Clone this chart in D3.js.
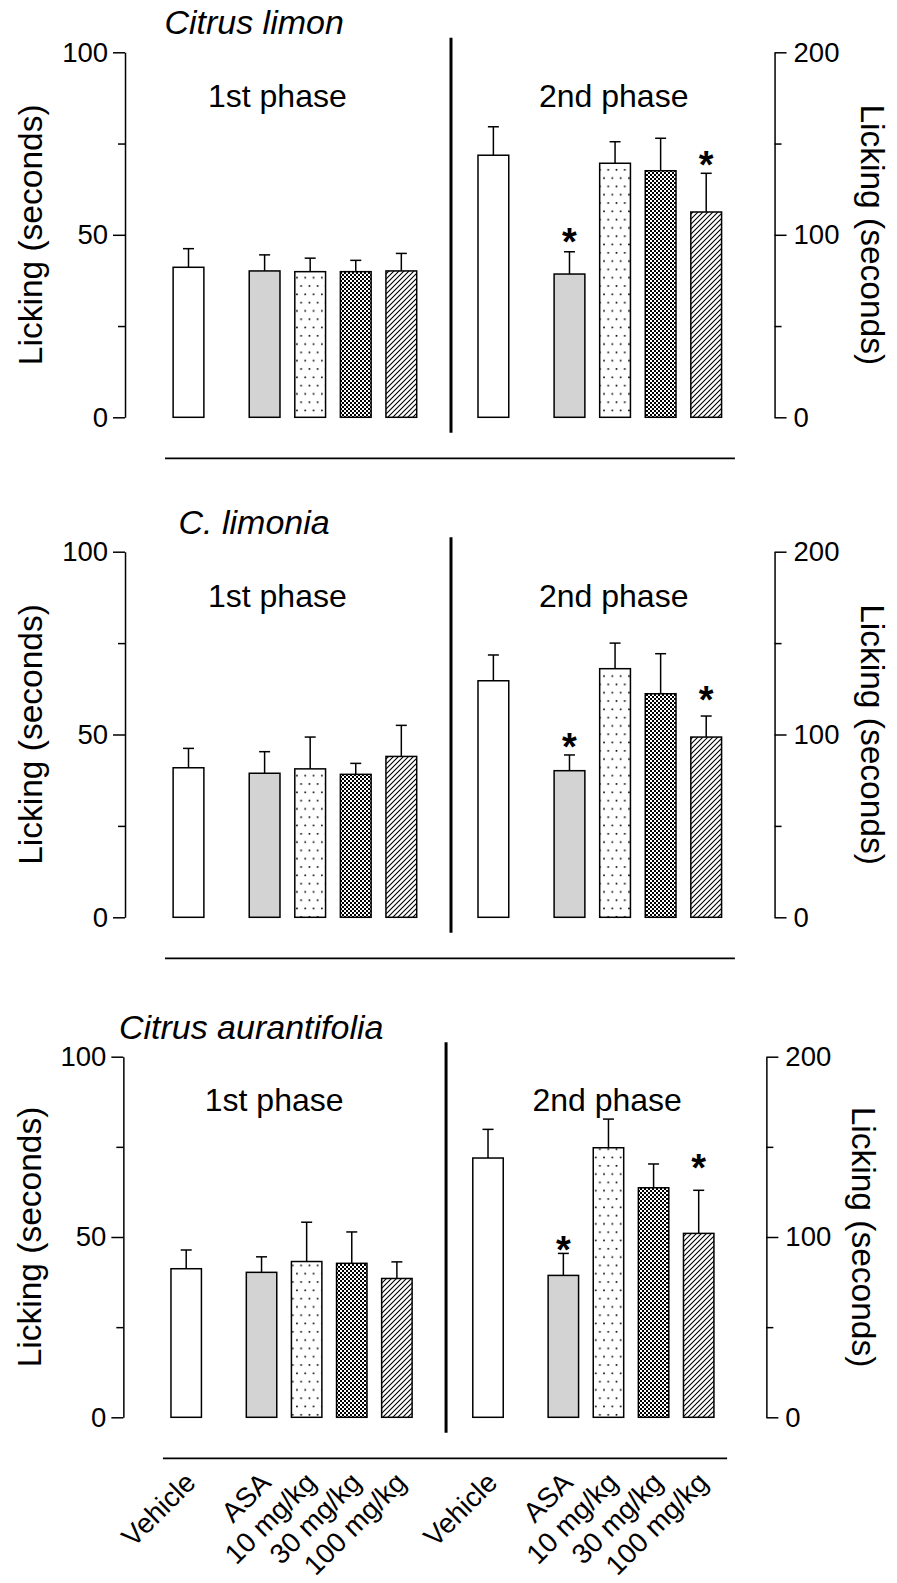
<!DOCTYPE html>
<html><head><meta charset="utf-8">
<script src="https://cdn.jsdelivr.net/npm/d3@7"></script>
<style>body{margin:0;background:#fff}</style>
</head><body>
<svg id="chart" width="897" height="1583"></svg>
<script>
// ---------- DATA ----------
const categories = ["Vehicle", "ASA", "10 mg/kg", "30 mg/kg", "100 mg/kg"];
const phaseLabels = ["1st phase", "2nd phase"];
const titles = ["Citrus limon", "C. limonia", "Citrus aurantifolia"];
const leftTicks = [0, 50, 100];
const leftMinorTicks = [25, 75];
const rightTicks = [0, 100, 200];
const rightMinorTicks = [50, 150];
const yLabel = "Licking (seconds)";

// Citrus limon
const limonPhase1Mean = [41.1, 40.1, 39.9, 39.9, 40.1];
const limonPhase1Sem  = [5.1, 4.4, 3.7, 3.1, 4.8];
const limonPhase2Mean = [143.6, 78.5, 139.2, 135.1, 112.5];
const limonPhase2Sem  = [15.6, 12.2, 11.8, 17.8, 21.2];
const limonPhase2Star = [null, 101, null, null, 143];

// C. limonia
const limoniaPhase1Mean = [40.9, 39.4, 40.6, 39.1, 44.0];
const limoniaPhase1Sem  = [5.3, 5.9, 8.7, 3.0, 8.5];
const limoniaPhase2Mean = [129.4, 80.2, 136.0, 122.3, 98.6];
const limoniaPhase2Sem  = [14.1, 8.6, 14.0, 21.9, 11.5];
const limoniaPhase2Star = [null, 98, null, null, 124];

// Citrus aurantifolia
const aurantPhase1Mean = [41.2, 40.2, 43.2, 42.7, 38.5];
const aurantPhase1Sem  = [5.2, 4.3, 10.9, 8.7, 4.6];
const aurantPhase2Mean = [143.8, 78.7, 149.5, 127.3, 102.0];
const aurantPhase2Sem  = [15.9, 12.2, 15.9, 13.2, 23.9];
const aurantPhase2Star = [null, 98, null, null, 143];

// ---------- LAYOUT ----------
const FONT = "'Liberation Sans', Arial, Helvetica, sans-serif";
const panels = [
  {title: titles[0], p1: [limonPhase1Mean, limonPhase1Sem], p2: [limonPhase2Mean, limonPhase2Sem], stars: limonPhase2Star,
   x0: 188.5, x1: 706.2, yTop: 52.3, yBot: 417.3, labels: false},
  {title: titles[1], p1: [limoniaPhase1Mean, limoniaPhase1Sem], p2: [limoniaPhase2Mean, limoniaPhase2Sem], stars: limoniaPhase2Star,
   x0: 188.5, x1: 706.2, yTop: 551.7, yBot: 917.3, labels: false},
  {title: titles[2], p1: [aurantPhase1Mean, aurantPhase1Sem], p2: [aurantPhase2Mean, aurantPhase2Sem], stars: aurantPhase2Star,
   x0: 186.2, x1: 698.7, yTop: 1056.7, yBot: 1417.3, labels: true}
];
const PHASE_OFFSET = 6.69, SLOT_MAX = 11.36;
const slotOf = (phase, i) => phase * PHASE_OFFSET + (i === 0 ? 0 : 0.67 + i);
const fills = ["#ffffff", "#d3d3d3", "url(#dots)", "url(#checker)", "url(#hatch)"];

const svg = d3.select("#chart");
const defs = svg.append("defs");
// dots pattern
const pd = defs.append("pattern").attr("id", "dots").attr("patternUnits", "userSpaceOnUse")
  .attr("width", 8.3).attr("height", 16.6);
pd.append("rect").attr("width", 8.3).attr("height", 16.6).attr("fill", "#fff");
pd.append("rect").attr("x", 1.5).attr("y", 3).attr("width", 1.6).attr("height", 1.6).attr("fill", "#000");
pd.append("rect").attr("x", 5.65).attr("y", 11.3).attr("width", 1.6).attr("height", 1.6).attr("fill", "#000");
// checker pattern
const pc = defs.append("pattern").attr("id", "checker").attr("patternUnits", "userSpaceOnUse")
  .attr("width", 4).attr("height", 4);
pc.append("rect").attr("width", 4).attr("height", 4).attr("fill", "#fff");
pc.append("rect").attr("width", 2).attr("height", 2).attr("fill", "#000");
pc.append("rect").attr("x", 2).attr("y", 2).attr("width", 2).attr("height", 2).attr("fill", "#000");
// hatch pattern
const ph = defs.append("pattern").attr("id", "hatch").attr("patternUnits", "userSpaceOnUse")
  .attr("width", 5).attr("height", 5);
ph.append("rect").attr("width", 5).attr("height", 5).attr("fill", "#fff");
ph.append("path").attr("d", "M-1,1 L1,-1 M0,5 L5,0 M4,6 L6,4").attr("stroke", "#000").attr("stroke-width", 1.1);

panels.forEach(P => {
  const g = svg.append("g");
  const x = d3.scaleLinear().domain([0, SLOT_MAX]).range([P.x0, P.x1]);
  const slotW = (P.x1 - P.x0) / SLOT_MAX;
  const yL = d3.scaleLinear().domain([0, 100]).range([P.yBot, P.yTop]);
  const yR = d3.scaleLinear().domain([0, 200]).range([P.yBot, P.yTop]);
  const barW = 0.675 * slotW;
  const xLeftAxis = x(-1.393), xRightAxis = x(12.86);

  // title
  g.append("text").attr("x", x(1.44)).attr("y", P.yTop - 18)
    .attr("text-anchor", "middle").attr("font-style", "italic")
    .attr("font-family", FONT).attr("font-size", 34).text(P.title);

  // left axis
  const aL = g.append("g").attr("transform", `translate(${xLeftAxis},0)`)
    .call(d3.axisLeft(yL).tickValues(leftTicks).tickSize(12).tickSizeOuter(0).tickPadding(5));
  const aLm = g.append("g").attr("transform", `translate(${xLeftAxis},0)`)
    .call(d3.axisLeft(yL).tickValues(leftMinorTicks).tickSize(7).tickSizeOuter(0).tickFormat(""));
  aLm.select(".domain").remove();
  // right axis
  const aR = g.append("g").attr("transform", `translate(${xRightAxis},0)`)
    .call(d3.axisRight(yR).tickValues(rightTicks).tickSize(12).tickSizeOuter(0).tickPadding(7));
  const aRm = g.append("g").attr("transform", `translate(${xRightAxis},0)`)
    .call(d3.axisRight(yR).tickValues(rightMinorTicks).tickSize(7).tickSizeOuter(0).tickFormat(""));
  aRm.select(".domain").remove();
  [aL, aLm, aR, aRm].forEach(a => {
    a.selectAll("path,line").attr("stroke", "#000").attr("stroke-width", 1.5);
    a.selectAll("text").attr("font-family", FONT).attr("font-size", 27.5).attr("fill", "#000");
  });

  // axis titles
  const yMid = (P.yTop + P.yBot) / 2;
  g.append("text").attr("transform", `translate(${x(-3.21)},${yMid}) rotate(-90)`)
    .attr("text-anchor", "middle").attr("font-family", FONT).attr("font-size", 33.5).text(yLabel);
  g.append("text").attr("transform", `translate(${x(14.76)},${yMid}) rotate(90)`)
    .attr("text-anchor", "middle").attr("font-family", FONT).attr("font-size", 33.5).text(yLabel);

  // phase labels
  g.append("text").attr("x", x(1.95)).attr("y", yL(85)).attr("text-anchor", "middle")
    .attr("font-family", FONT).attr("font-size", 32).text(phaseLabels[0]);
  g.append("text").attr("x", x(9.33)).attr("y", yL(85)).attr("text-anchor", "middle")
    .attr("font-family", FONT).attr("font-size", 32).text(phaseLabels[1]);

  // separator & baseline rule
  g.append("line").attr("x1", x(5.76)).attr("x2", x(5.76))
    .attr("y1", P.yTop - 14.5).attr("y2", P.yBot + 15.5)
    .attr("stroke", "#000").attr("stroke-width", 3);
  g.append("line").attr("x1", x(-0.515)).attr("x2", x(11.99))
    .attr("y1", P.yBot + 41).attr("y2", P.yBot + 41)
    .attr("stroke", "#000").attr("stroke-width", 1.7);

  // bars
  [[P.p1, yL, null], [P.p2, yR, P.stars]].forEach(([ms, ys, stars], phase) => {
    const [means, sems] = ms;
    const data = categories.map((c, i) => ({c, i, m: means[i], s: sems[i], star: stars ? stars[i] : null}));
    const bg = g.append("g");
    // error bars
    bg.selectAll("line.err").data(data).join("line")
      .attr("x1", d => x(slotOf(phase, d.i))).attr("x2", d => x(slotOf(phase, d.i)))
      .attr("y1", d => ys(d.m)).attr("y2", d => ys(d.m + d.s))
      .attr("stroke", "#000").attr("stroke-width", 1.5);
    bg.selectAll("line.cap").data(data).join("line")
      .attr("x1", d => x(slotOf(phase, d.i)) - 5.5).attr("x2", d => x(slotOf(phase, d.i)) + 5.5)
      .attr("y1", d => ys(d.m + d.s)).attr("y2", d => ys(d.m + d.s))
      .attr("stroke", "#000").attr("stroke-width", 1.5);
    bg.selectAll("rect").data(data).join("rect")
      .attr("x", d => x(slotOf(phase, d.i)) - barW / 2).attr("width", barW)
      .attr("y", d => ys(d.m)).attr("height", d => ys(0) - ys(d.m))
      .attr("fill", d => fills[d.i]).attr("stroke", "#000").attr("stroke-width", 1.5);
    // stars
    bg.selectAll("text.star").data(data.filter(d => d.star !== null)).join("text")
      .attr("x", d => x(slotOf(phase, d.i))).attr("y", d => ys(d.star) + 22)
      .attr("text-anchor", "middle").attr("font-family", FONT).attr("font-weight", "bold")
      .attr("font-size", 38).text("*");
    // x labels
    if (P.labels) {
      bg.selectAll("text.xl").data(data).join("text")
        .attr("transform", d => `translate(${x(slotOf(phase, d.i)) + 11},${P.yBot + 67}) rotate(-45)`)
        .attr("text-anchor", "end").attr("font-family", FONT).attr("font-size", 28).text(d => d.c);
    }
  });
});
</script>
</body></html>
